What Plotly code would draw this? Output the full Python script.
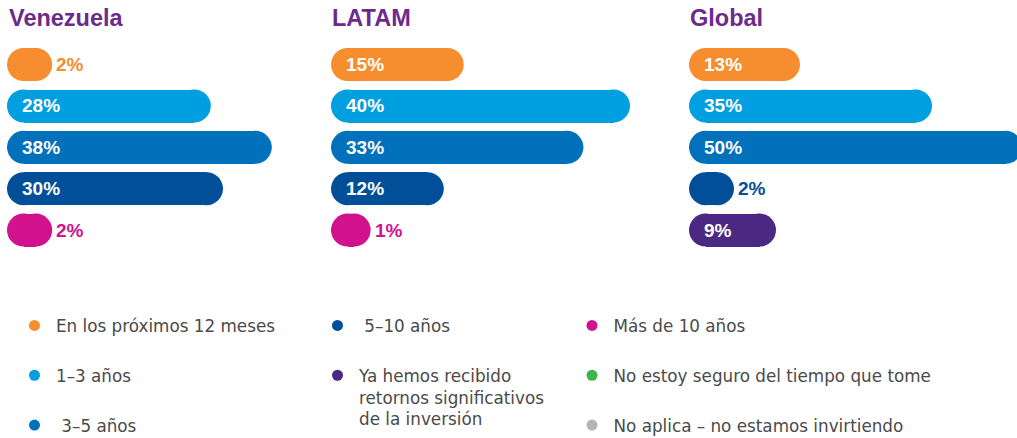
import plotly.graph_objects as go

# ---------------- data ----------------
CATEGORIES = [
    "En los próximos 12 meses",
    "1–3 años",
    "3–5 años",
    "5–10 años",
    "Ya hemos recibido retornos significativos de la inversión",
    "Más de 10 años",
    "No estoy seguro del tiempo que tome",
    "No aplica – no estamos invirtiendo",
]
LEGEND_LABELS = [
    "En los próximos 12 meses",
    "1–3 años",
    "\u00a03–5 años",
    "\u00a05–10 años",
    "Ya hemos recibido<br>retornos significativos<br>de la inversión",
    "Más de 10 años",
    "No estoy seguro del tiempo que tome",
    "No aplica – no estamos invirtiendo",
]
COLORS = ["#F68D2E", "#009FDF", "#0071BA", "#004F98", "#4B2882",
          "#D2128D", "#3DB54A", "#B4B4B4"]

REGIONS = ["Venezuela", "LATAM", "Global"]
VEN_CATS = ["En los próximos 12 meses", "1–3 años", "3–5 años", "5–10 años", "Más de 10 años"]
VEN_VALUES = [2, 28, 38, 30, 2]
LATAM_CATS = ["En los próximos 12 meses", "1–3 años", "3–5 años", "5–10 años", "Más de 10 años"]
LATAM_VALUES = [15, 40, 33, 12, 1]
GLOBAL_CATS = ["En los próximos 12 meses", "1–3 años", "3–5 años", "5–10 años",
               "Ya hemos recibido retornos significativos de la inversión"]
GLOBAL_VALUES = [13, 35, 50, 2, 9]

LEGEND_COLUMNS = [[0, 1, 2], [3, 4], [5, 6, 7]]

# ---------------- layout constants ----------------
W, H = 1017, 438
TITLE_PX = [8, 331, 689]
ORIGIN_PX = [23.5, 347.5, 705.5]
PX_PER_UNIT = [6.1, 6.65, 6.0]
DOMAIN_PX = [(0, 318), (322, 678), (682, 1017)]
ROW_TOP, ROW_BOTTOM = 43.8, 250.8
CAP = 33  # pill height in px
ROW_PITCH = (ROW_BOTTOM - ROW_TOP) / 5
BAR_W = CAP / ROW_PITCH
TITLE_COLOR = "#6C2A8C"
FONT = "Liberation Sans, Arial, sans-serif"
LEGEND_FONT = "DejaVu Sans, sans-serif"

panel_data = [(VEN_CATS, VEN_VALUES), (LATAM_CATS, LATAM_VALUES), (GLOBAL_CATS, GLOBAL_VALUES)]

fig = go.Figure()
annotations = []

for p, (cats, vals) in enumerate(panel_data):
    ax = "" if p == 0 else str(p + 1)
    xref, yref = "x" + ax, "y" + ax
    rows = list(range(len(cats)))
    cols = [COLORS[CATEGORIES.index(c)] for c in cats]
    fig.add_trace(go.Bar(
        x=vals, y=rows, base=0, orientation="h", width=BAR_W,
        marker=dict(color=cols, line=dict(width=0)),
        xaxis=xref, yaxis=yref, showlegend=False, hoverinfo="skip"))
    # rounded caps at both ends of each pill
    fig.add_trace(go.Scatter(
        x=[0] * len(vals), y=rows, mode="markers",
        marker=dict(size=CAP, color=cols, line=dict(width=0)),
        xaxis=xref, yaxis=yref, showlegend=False, hoverinfo="skip"))
    fig.add_trace(go.Scatter(
        x=vals, y=rows, mode="markers",
        marker=dict(size=CAP, color=cols, line=dict(width=0)),
        xaxis=xref, yaxis=yref, showlegend=False, hoverinfo="skip"))
    for r, v, c in zip(rows, vals, cols):
        inside = v >= 5
        annotations.append(dict(
            x=v if not inside else 0, y=r, xref=xref, yref=yref,
            text=f"<b>{v}%</b>", showarrow=False, xanchor="left", yanchor="middle",
            xshift=(CAP / 2 + 2) if not inside else -4,
            font=dict(family=FONT, size=19, color="white" if inside else c)))
    d0, d1 = DOMAIN_PX[p]
    k, o = PX_PER_UNIT[p], ORIGIN_PX[p]
    fig.update_layout(**{
        "xaxis" + ax: dict(domain=[d0 / W, d1 / W], range=[(d0 - o) / k, (d1 - o) / k],
                           visible=False, fixedrange=True),
        "yaxis" + ax: dict(domain=[1 - ROW_BOTTOM / H, 1 - ROW_TOP / H], range=[4.5, -0.5],
                           visible=False, fixedrange=True),
    })
    annotations.append(dict(
        x=TITLE_PX[p] / W, y=1 - 18 / H, xref="paper", yref="paper",
        text=f"<b>{REGIONS[p]}</b>", showarrow=False, xanchor="left", yanchor="middle",
        xshift=-1, font=dict(family=FONT, size=23.5, color=TITLE_COLOR)))

# legend-only traces
LEGEND_POS = [(13, 308), (316, 308), (570.5, 308)]
for li, col in enumerate(LEGEND_COLUMNS):
    lname = "legend" if li == 0 else f"legend{li + 1}"
    for i in col:
        fig.add_trace(go.Scatter(
            x=[None], y=[None], mode="markers", name=LEGEND_LABELS[i],
            marker=dict(size=11, color=COLORS[i], symbol="circle"),
            legendgroup=f"g{i}", showlegend=True, legend=lname, hoverinfo="skip"))
    lx, ly = LEGEND_POS[li]
    fig.update_layout(**{lname: dict(
        x=lx / W, y=1 - ly / H, xanchor="left", yanchor="top",
        orientation="v", traceorder="grouped", tracegroupgap=25,
        valign="top", itemsizing="trace", itemwidth=33, bgcolor="rgba(0,0,0,0)",
        font=dict(family=LEGEND_FONT, size=16.8, color="#4A4A4A"))})

fig.update_layout(
    width=W, height=H, margin=dict(l=0, r=0, t=0, b=0, autoexpand=False), autosize=False,
    paper_bgcolor="white", plot_bgcolor="white",
    annotations=annotations, bargap=0, showlegend=True,
)

fig.write_html(
    "out.html",
    config={"displayModeBar": False, "responsive": False},
    post_script=(
        "document.body.style.margin='0';"
        "document.body.style.overflow='hidden';"
        "Plotly.relayout('{plot_id}', {width: %d, height: %d});" % (W, H)
    ),
)
